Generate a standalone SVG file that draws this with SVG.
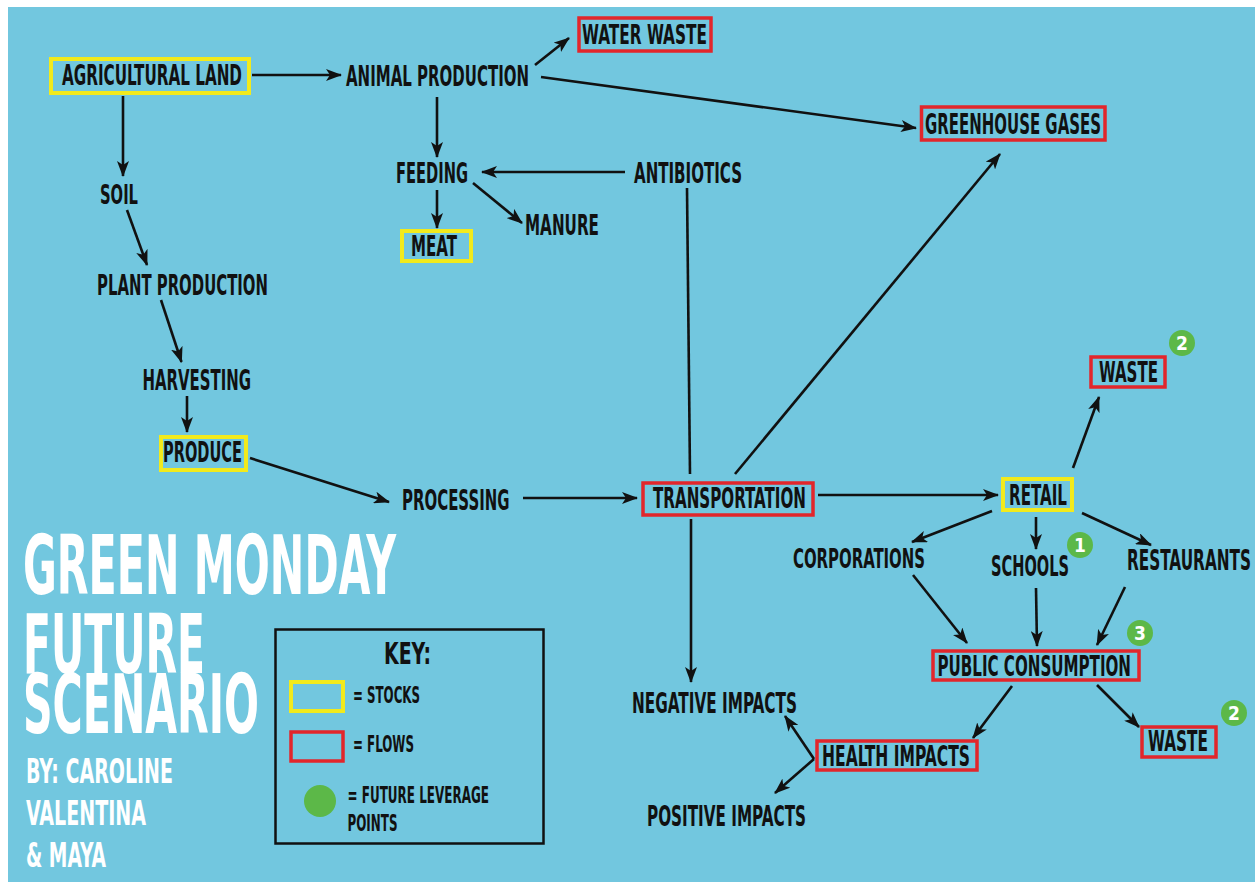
<svg xmlns="http://www.w3.org/2000/svg" width="1255" height="882" viewBox="0 0 1255 882">
<style>
text{font-family:"Liberation Sans Narrow","DejaVu Sans Condensed","Liberation Sans",sans-serif;font-weight:bold;fill:#111;}
.l{font-size:28px;}
.s{font-size:26px;}
.title{font-size:82px;fill:#fff;}
.by{font-size:34px;fill:#fff;}
.key{font-size:31px;}
.kl{font-size:22.5px;}
.num{font-size:19px;fill:#fff;}
.stock{fill:none;stroke:#F2EA1D;stroke-width:4;}
.flow{fill:none;stroke:#E2262B;stroke-width:3.5;}
.lev{fill:#5CB848;}
#connectors line{stroke:#111;stroke-width:2.6;marker-end:url(#ah);}
#connectors line.plain{marker-end:none;}
</style>
<defs>
<marker id="ah" markerUnits="userSpaceOnUse" markerWidth="16" markerHeight="12" refX="15" refY="6" orient="auto">
<path d="M0,0 L16,6 L0,12 L4,6 Z" fill="#111"/>
</marker>
</defs>
<rect x="0" y="0" width="1255" height="882" fill="#ffffff"/>
<rect x="8" y="7" width="1247" height="875" fill="#72C7DF"/>

<g id="connectors">
<line x1="252" y1="75" x2="341" y2="75"/>
<line x1="123" y1="96" x2="123" y2="176"/>
<line x1="127" y1="210" x2="147" y2="265"/>
<line x1="161" y1="300" x2="181.5" y2="362"/>
<line x1="187" y1="396" x2="187" y2="432"/>
<line x1="250" y1="458" x2="389" y2="502"/>
<line x1="523" y1="498" x2="637" y2="498"/>
<line x1="535" y1="65" x2="569" y2="38"/>
<line x1="541" y1="77" x2="916" y2="128"/>
<line x1="437" y1="97" x2="437" y2="157"/>
<line x1="625" y1="172" x2="482" y2="172"/>
<line x1="437" y1="190" x2="437" y2="228"/>
<line x1="473" y1="183" x2="522" y2="223"/>
<line class="plain" x1="687" y1="188" x2="690" y2="474"/>
<line x1="735" y1="474" x2="1000" y2="154"/>
<line x1="818" y1="495" x2="998" y2="495"/>
<line x1="691" y1="519" x2="691" y2="682"/>
<line x1="1073" y1="468" x2="1099" y2="397"/>
<line x1="992" y1="511" x2="912" y2="542"/>
<line x1="1036" y1="517" x2="1036" y2="549"/>
<line x1="1082" y1="513" x2="1151" y2="545"/>
<line x1="913" y1="575" x2="967" y2="643"/>
<line x1="1036" y1="588" x2="1037" y2="646"/>
<line x1="1125" y1="587" x2="1097" y2="645"/>
<line x1="1012" y1="686" x2="973" y2="738"/>
<line x1="1097" y1="685" x2="1139" y2="727"/>
<line x1="814" y1="759" x2="785" y2="716"/>
<line x1="814" y1="759" x2="775" y2="793"/>
</g>

<g id="agricultural-land"><rect class="stock" x="51" y="59" width="198" height="34"/><text class="l" x="62" y="85" textLength="180" lengthAdjust="spacingAndGlyphs">AGRICULTURAL LAND</text></g>
<g id="animal-production"><text class="l" x="346" y="86" textLength="183" lengthAdjust="spacingAndGlyphs">ANIMAL PRODUCTION</text></g>
<g id="water-waste"><rect class="flow" x="579" y="18" width="132" height="33"/><text class="s" x="582" y="44" textLength="125" lengthAdjust="spacingAndGlyphs">WATER WASTE</text></g>
<g id="greenhouse-gases"><rect class="flow" x="921.5" y="107" width="183.5" height="33"/><text class="l" x="925" y="134" textLength="176" lengthAdjust="spacingAndGlyphs">GREENHOUSE GASES</text></g>
<g id="feeding"><text class="l" x="396" y="183" textLength="72" lengthAdjust="spacingAndGlyphs">FEEDING</text></g>
<g id="antibiotics"><text class="l" x="634" y="183" textLength="108" lengthAdjust="spacingAndGlyphs">ANTIBIOTICS</text></g>
<g id="meat"><rect class="stock" x="402" y="231" width="69" height="30"/><text class="l" x="411" y="256" textLength="46" lengthAdjust="spacingAndGlyphs">MEAT</text></g>
<g id="manure"><text class="l" x="525" y="235" textLength="74" lengthAdjust="spacingAndGlyphs">MANURE</text></g>
<g id="soil"><text class="s" x="100" y="204" textLength="38" lengthAdjust="spacingAndGlyphs">SOIL</text></g>
<g id="plant-production"><text class="l" x="97" y="295" textLength="171" lengthAdjust="spacingAndGlyphs">PLANT PRODUCTION</text></g>
<g id="harvesting"><text class="l" x="142.5" y="390" textLength="108.5" lengthAdjust="spacingAndGlyphs">HARVESTING</text></g>
<g id="produce"><rect class="stock" x="161" y="437" width="85" height="33"/><text class="l" x="163" y="462" textLength="79" lengthAdjust="spacingAndGlyphs">PRODUCE</text></g>
<g id="processing"><text class="l" x="402" y="510" textLength="107.5" lengthAdjust="spacingAndGlyphs">PROCESSING</text></g>
<g id="transportation"><rect class="flow" x="643" y="483" width="170" height="32"/><text class="l" x="653" y="508" textLength="153" lengthAdjust="spacingAndGlyphs">TRANSPORTATION</text></g>
<g id="retail"><rect class="stock" x="1003" y="479" width="69" height="31"/><text class="l" x="1009" y="505" textLength="58" lengthAdjust="spacingAndGlyphs">RETAIL</text></g>
<g id="waste-retail"><rect class="flow" x="1091" y="357" width="74" height="30"/><text class="l" x="1099" y="382" textLength="59" lengthAdjust="spacingAndGlyphs">WASTE</text><circle class="lev" cx="1182" cy="343" r="13"/><text class="num" x="1182" y="350" text-anchor="middle">2</text></g>
<g id="corporations"><text class="s" x="793" y="568" textLength="132" lengthAdjust="spacingAndGlyphs">CORPORATIONS</text></g>
<g id="schools"><text class="l" x="991" y="576" textLength="78" lengthAdjust="spacingAndGlyphs">SCHOOLS</text><circle class="lev" cx="1080" cy="545" r="13"/><text class="num" x="1080" y="552" text-anchor="middle">1</text></g>
<g id="restaurants"><text class="l" x="1127" y="570" textLength="124" lengthAdjust="spacingAndGlyphs">RESTAURANTS</text></g>
<g id="public-consumption"><rect class="flow" x="933" y="651" width="206" height="29"/><text class="l" x="937.5" y="676" textLength="193.5" lengthAdjust="spacingAndGlyphs">PUBLIC CONSUMPTION</text><circle class="lev" cx="1140" cy="633" r="13"/><text class="num" x="1140" y="640" text-anchor="middle">3</text></g>
<g id="health-impacts"><rect class="flow" x="817" y="741" width="160" height="29"/><text class="l" x="822" y="766" textLength="148" lengthAdjust="spacingAndGlyphs">HEALTH IMPACTS</text></g>
<g id="waste-consumption"><rect class="flow" x="1142" y="727" width="74" height="30"/><text class="l" x="1148" y="751" textLength="60" lengthAdjust="spacingAndGlyphs">WASTE</text><circle class="lev" cx="1234" cy="713" r="13"/><text class="num" x="1234" y="720" text-anchor="middle">2</text></g>
<g id="negative-impacts"><text class="l" x="632" y="713" textLength="165" lengthAdjust="spacingAndGlyphs">NEGATIVE IMPACTS</text></g>
<g id="positive-impacts"><text class="l" x="647" y="826" textLength="159" lengthAdjust="spacingAndGlyphs">POSITIVE IMPACTS</text></g>

<g id="title">
<text class="title" x="23" y="594" textLength="373" lengthAdjust="spacingAndGlyphs">GREEN MONDAY</text>
<text class="title" x="23" y="673" textLength="182" lengthAdjust="spacingAndGlyphs">FUTURE</text>
<text class="title" x="23" y="733" textLength="236" lengthAdjust="spacingAndGlyphs">SCENARIO</text>
<text class="by" x="26" y="783" textLength="147" lengthAdjust="spacingAndGlyphs">BY: CAROLINE</text>
<text class="by" x="26" y="825" textLength="120" lengthAdjust="spacingAndGlyphs">VALENTINA</text>
<text class="by" x="26" y="867" textLength="80" lengthAdjust="spacingAndGlyphs">&amp; MAYA</text>
</g>

<g id="key">
<rect x="275.5" y="629.5" width="268" height="214" fill="none" stroke="#111" stroke-width="2.5"/>
<text class="key" x="384" y="664" textLength="47" lengthAdjust="spacingAndGlyphs">KEY:</text>
<rect class="stock" x="291" y="682" width="52" height="29"/>
<text class="kl" x="353" y="703" textLength="67" lengthAdjust="spacingAndGlyphs">= STOCKS</text>
<rect class="flow" x="291" y="732" width="52" height="29"/>
<text class="kl" x="353" y="752" textLength="61" lengthAdjust="spacingAndGlyphs">= FLOWS</text>
<circle class="lev" cx="320" cy="801" r="16"/>
<text class="kl" x="347.5" y="803" textLength="141.5" lengthAdjust="spacingAndGlyphs">= FUTURE LEVERAGE</text>
<text class="kl" x="347.5" y="831" textLength="50" lengthAdjust="spacingAndGlyphs">POINTS</text>
</g>
</svg>
